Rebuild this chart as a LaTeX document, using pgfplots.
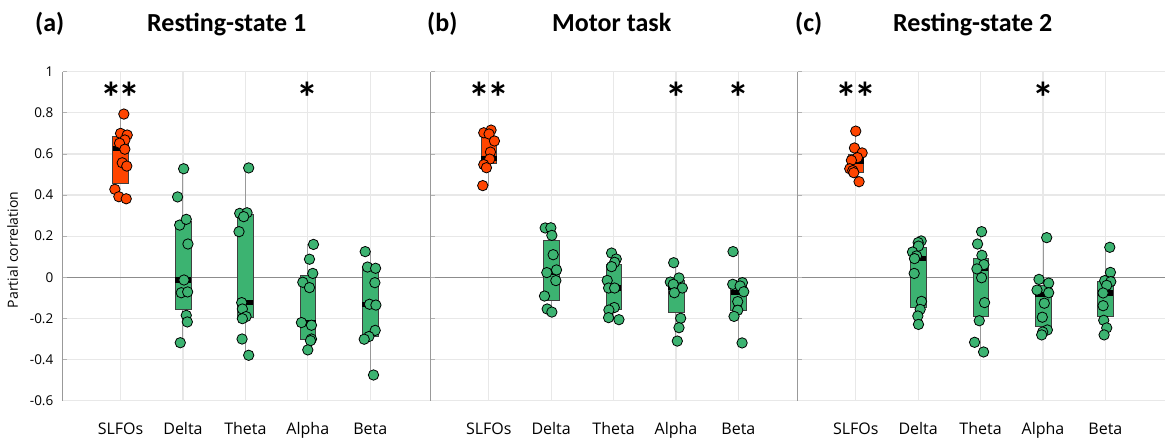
\documentclass[border=0pt]{standalone}
\usepackage{fontspec}
\setmainfont{Open Sans}
\newfontfamily\calib{Carlito}
\usepackage{pgfplots}
\pgfplotsset{compat=1.18}
\usepgfplotslibrary{statistics}
\definecolor{sl}{HTML}{FF4500}
\definecolor{gr}{HTML}{3CB371}
\newcommand{\bp}[7]{\addplot[fill=#2, draw=gray!50!black, line width=0.5pt,
  boxplot/every median/.style={draw=black, line width=5.5pt},
  boxplot/every whisker/.style={draw=gray!80, line width=1pt},
  boxplot prepared={draw direction=y, draw position=#1, lower whisker=#3, lower quartile=#4, median=#5,
  upper quartile=#6, upper whisker=#7, box extend=0.25, whisker extend=0}] coordinates {};}
\pgfplotsset{pts/.style={only marks, mark=*, mark size=5.2pt, mark options={fill=#1, draw=black, line width=0.8pt}}}
\tikzset{stars/.style={font=\calib\bfseries\fontsize{44}{44}\selectfont, inner sep=0pt}}
\newcommand{\twostar}{*\kern-3.5pt*}
\pgfplotsset{panel/.style={
  scale only axis, width=367pt, height=329pt,
  xmin=0.07, xmax=5.95, ymin=-0.6, ymax=1,
  xtick={1,2,3,4,5}, xticklabels={SLFOs,Delta,Theta,Alpha,Beta},
  ytick={-0.6,-0.4,-0.2,0,0.2,0.4,0.6,0.8,1},
  axis x line*=bottom, axis y line*=left,
  x axis line style={-, draw=gray!18, line width=1.2pt},
  y axis line style={-, draw=gray!80, line width=1.3pt},
  grid=major, major grid style={draw=gray!18, line width=1.2pt},
  xtick style={draw=none},
  ytick style={draw=gray!60, line width=0.8pt}, major tick length=4pt, tick align=inside,
  xticklabel style={font=\fontsize{16}{16}\selectfont, anchor=base, yshift=-34.3pt},
  yticklabel style={font=\fontsize{13.5}{13.5}\selectfont, anchor=east, inner sep=0pt, xshift=-9pt},
  extra y ticks={0}, extra y tick labels={},
  extra y tick style={grid=major, major grid style={draw=gray!90, line width=1.3pt}, tick style={draw=none}},
  anchor=south west,
}}
\begin{document}
\begin{tikzpicture}
\useasboundingbox (0,0) rectangle (1169pt,444pt);
% ---------------- (a)
\begin{axis}[panel, at={(62.5pt,43.3pt)},
  yticklabels={-0.6,-0.4,-0.2,0,0.2,0.4,0.6,0.8,1}]
\bp{1}{sl}{0.457}{0.457}{0.627}{0.684}{0.794}
\bp{2}{gr}{-0.318}{-0.156}{-0.013}{0.274}{0.528}
\bp{3}{gr}{-0.379}{-0.196}{-0.123}{0.306}{0.532}
\bp{4}{gr}{-0.353}{-0.301}{-0.220}{0.008}{0.160}
\bp{5}{gr}{-0.475}{-0.285}{-0.131}{0.049}{0.125}
\addplot[pts=sl] coordinates {(1.053,0.794) (1.000,0.700) (1.107,0.692) (1.069,0.668) (0.984,0.652) (1.069,0.623) (1.027,0.557) (1.100,0.541) (0.909,0.428) (0.973,0.392) (1.091,0.382)};
\addplot[pts=gr] coordinates {
(2.011,0.528) (1.914,0.391) (1.947,0.254) (2.053,0.282) (2.080,0.162) (2.016,-0.013) (1.973,-0.075) (2.075,-0.071) (2.053,-0.185) (2.070,-0.217) (1.957,-0.318)
(3.053,0.532) (2.909,0.311) (3.027,0.314) (2.973,0.295) (2.898,0.222) (2.941,-0.123) (2.952,-0.154) (3.011,-0.191) (2.952,-0.201) (2.947,-0.300) (3.053,-0.379)
(4.091,0.160) (4.027,0.088) (4.080,0.019) (3.920,-0.024) (4.027,-0.050) (3.898,-0.220) (4.059,-0.233) (4.059,-0.300) (4.043,-0.308) (4.000,-0.353)
(4.920,0.125) (4.957,0.050) (5.086,0.044) (5.075,-0.026) (4.989,-0.131) (5.091,-0.135) (5.080,-0.258) (4.979,-0.288) (4.904,-0.301) (5.053,-0.475)};
\node[stars] at (axis cs:1,0.875) {\twostar};
\node[stars] at (axis cs:4,0.875) {*};
\end{axis}
% ---------------- (b)
\begin{axis}[panel, at={(430.7pt,43.3pt)}, yticklabels={}]
\bp{1}{sl}{0.446}{0.554}{0.579}{0.687}{0.716}
\bp{2}{gr}{-0.169}{-0.110}{0.023}{0.178}{0.241}
\bp{3}{gr}{-0.206}{-0.156}{-0.052}{0.066}{0.118}
\bp{4}{gr}{-0.310}{-0.169}{-0.049}{-0.013}{0.071}
\bp{5}{gr}{-0.319}{-0.159}{-0.075}{-0.029}{0.125}
\addplot[pts=sl] coordinates {(0.920,0.703) (1.037,0.716) (1.005,0.697) (1.091,0.663) (1.027,0.609) (1.016,0.575) (0.920,0.548) (0.963,0.533) (0.904,0.446)};
\addplot[pts=gr] coordinates {
(1.904,0.240) (1.995,0.241) (2.011,0.204) (2.032,0.110) (1.930,0.023) (2.086,0.036) (2.075,-0.016) (1.893,-0.091) (1.936,-0.154) (2.011,-0.169)
(2.968,0.118) (3.043,0.089) (3.016,0.073) (2.968,0.052) (2.898,-0.015) (2.920,-0.052) (3.016,-0.052) (3.011,-0.147) (2.925,-0.159) (2.920,-0.196) (3.086,-0.206)
(3.963,0.071) (4.048,-0.003) (3.909,-0.023) (3.957,-0.034) (4.102,-0.052) (3.973,-0.075) (4.075,-0.199) (4.048,-0.245) (4.021,-0.310)
(4.914,0.125) (5.064,-0.026) (4.909,-0.034) (5.027,-0.042) (5.086,-0.070) (4.989,-0.118) (4.989,-0.160) (4.930,-0.190) (5.059,-0.319)};
\node[stars] at (axis cs:1,0.875) {\twostar};
\node[stars] at (axis cs:4,0.875) {*};
\node[stars] at (axis cs:5,0.875) {*};
\end{axis}
% ---------------- (c)
\begin{axis}[panel, at={(797.7pt,43.3pt)}, yticklabels={}]
\bp{1}{sl}{0.465}{0.512}{0.566}{0.600}{0.711}
\bp{2}{gr}{-0.229}{-0.144}{0.091}{0.144}{0.177}
\bp{3}{gr}{-0.363}{-0.188}{0.042}{0.094}{0.222}
\bp{4}{gr}{-0.280}{-0.238}{-0.083}{-0.039}{0.193}
\bp{5}{gr}{-0.280}{-0.190}{-0.076}{-0.021}{0.146}
\addplot[pts=sl] coordinates {(1.000,0.711) (0.979,0.629) (1.102,0.605) (1.027,0.582) (0.930,0.569) (0.904,0.528) (0.952,0.519) (0.968,0.509) (1.053,0.465)};
\addplot[pts=gr] coordinates {
(2.048,0.177) (2.000,0.169) (2.005,0.152) (1.909,0.123) (1.973,0.104) (1.941,0.091) (1.936,0.019) (2.053,-0.117) (2.032,-0.156) (1.995,-0.188) (2.005,-0.229)
(3.016,0.222) (2.952,0.162) (3.021,0.107) (3.053,0.062) (2.941,0.041) (3.016,-0.002) (3.064,-0.123) (2.979,-0.211) (2.904,-0.316) (3.048,-0.363)
(4.059,0.193) (3.936,-0.010) (4.091,-0.028) (3.904,-0.062) (4.091,-0.075) (4.021,-0.126) (3.989,-0.194) (4.070,-0.256) (3.995,-0.266) (3.979,-0.280)
(5.070,0.146) (5.080,0.024) (4.989,-0.016) (5.086,-0.021) (5.021,-0.039) (4.963,-0.076) (4.963,-0.138) (4.973,-0.209) (5.021,-0.246) (4.979,-0.280)};
\node[stars] at (axis cs:1,0.875) {\twostar};
\node[stars] at (axis cs:4,0.875) {*};
\end{axis}
% ---------------- texts
\node[rotate=90, font=\fontsize{14}{14}\selectfont] at (12.5pt,194pt) {Partial correlation};
\begin{scope}[every node/.style={anchor=base west, inner sep=0pt, font=\calib\bfseries\fontsize{26}{26}\selectfont}]
\node at (35pt,412pt) {(a)};
\node at (147pt,412pt) {Resting-state 1};
\node at (427pt,412pt) {(b)};
\node at (552pt,412pt) {Motor task};
\node at (795pt,412pt) {(c)};
\node at (893pt,412pt) {Resting-state 2};
\end{scope}
\end{tikzpicture}
\end{document}
